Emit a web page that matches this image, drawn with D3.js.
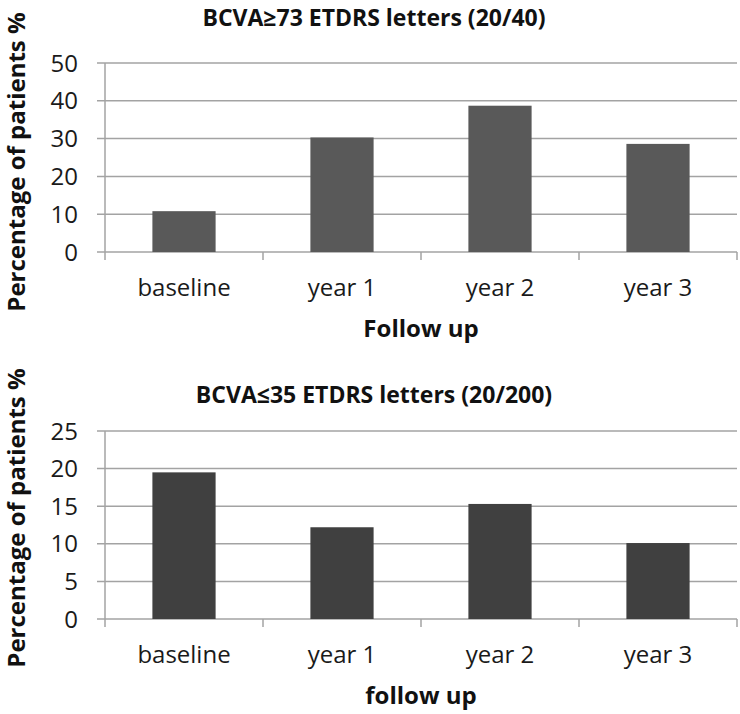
<!DOCTYPE html>
<html><head><meta charset="utf-8">
<script src="https://cdn.jsdelivr.net/npm/d3@7"></script>
<style>html,body{margin:0;padding:0;background:#fff;}</style>
</head><body>
<svg id="c" width="740" height="714"></svg>
<script>
const categories = ["baseline", "year 1", "year 2", "year 3"];
const topValues = [10.8, 30.3, 38.7, 28.6];
const bottomValues = [19.5, 12.2, 15.3, 10.1];
const topTicks = [0, 10, 20, 30, 40, 50];
const bottomTicks = [0, 5, 10, 15, 20, 25];
const topTitle = "BCVA\u226573 ETDRS letters (20/40)";
const bottomTitle = "BCVA\u226435 ETDRS letters (20/200)";
const yLabel = "Percentage of patients %";
const topXLabel = "Follow up";
const bottomXLabel = "follow up";

const svg = d3.select("#c");
const FONT = "'Open Sans', sans-serif";
const GRID = "#a3a3a3";

function panel(cfg) {
  const g = svg.append("g");
  const x = d3.scaleBand().domain(categories).range([105, 737]).paddingInner(0.6).paddingOuter(0.3);
  const y = d3.scaleLinear().domain([0, d3.max(cfg.ticks)]).range([cfg.bottom, cfg.top]);

  g.selectAll(".grid").data(cfg.ticks).join("line")
    .attr("x1", 97).attr("x2", 737)
    .attr("y1", d => y(d)).attr("y2", d => y(d))
    .attr("stroke", GRID).attr("stroke-width", 1.5);

  g.append("line").attr("x1", 105).attr("x2", 105)
    .attr("y1", y(d3.max(cfg.ticks))).attr("y2", y(0) + 8)
    .attr("stroke", GRID).attr("stroke-width", 1.5);

  const step = x.step();
  const bounds = d3.range(categories.length + 1).map(i => 105 + i * step);
  g.selectAll(".xt").data(bounds.slice(1)).join("line")
    .attr("x1", d => d).attr("x2", d => d)
    .attr("y1", y(0)).attr("y2", y(0) + 8)
    .attr("stroke", GRID).attr("stroke-width", 1.5);

  g.selectAll(".bar").data(cfg.values).join("rect")
    .attr("x", (d, i) => x(categories[i]))
    .attr("width", x.bandwidth())
    .attr("y", d => y(d))
    .attr("height", d => y(0) - y(d))
    .attr("fill", cfg.color);

  g.selectAll(".yl").data(cfg.ticks).join("text")
    .attr("x", 78).attr("y", d => y(d) + 8.5)
    .attr("text-anchor", "end")
    .attr("font-family", FONT).attr("font-size", 24).attr("fill", "#1a1a1a")
    .text(d => d);

  g.selectAll(".xl").data(categories).join("text")
    .attr("x", d => x(d) + x.bandwidth() / 2).attr("y", y(0) + 44)
    .attr("text-anchor", "middle")
    .attr("font-family", FONT).attr("font-size", 24).attr("fill", "#1a1a1a")
    .text(d => d);

  g.append("text").attr("x", 374).attr("y", cfg.titleY)
    .attr("text-anchor", "middle")
    .attr("font-family", FONT).attr("font-weight", "bold").attr("font-size", 23).attr("fill", "#111")
    .text(cfg.title);

  g.append("text").attr("x", 421).attr("y", y(0) + 85)
    .attr("text-anchor", "middle")
    .attr("font-family", FONT).attr("font-weight", "bold").attr("font-size", 24).attr("fill", "#111")
    .text(cfg.xLabel);

  g.append("text")
    .attr("transform", `translate(25,${cfg.yLabelCenter}) rotate(-90)`)
    .attr("text-anchor", "middle")
    .attr("font-family", FONT).attr("font-weight", "bold").attr("font-size", 24).attr("fill", "#111")
    .text(yLabel);
}

panel({values: topValues, ticks: topTicks, top: 63, bottom: 252, color: "#595959",
  title: topTitle, titleY: 26, xLabel: topXLabel, yLabelCenter: 162});
panel({values: bottomValues, ticks: bottomTicks, top: 431, bottom: 619, color: "#404040",
  title: bottomTitle, titleY: 403, xLabel: bottomXLabel, yLabelCenter: 518});
</script>
</body></html>
